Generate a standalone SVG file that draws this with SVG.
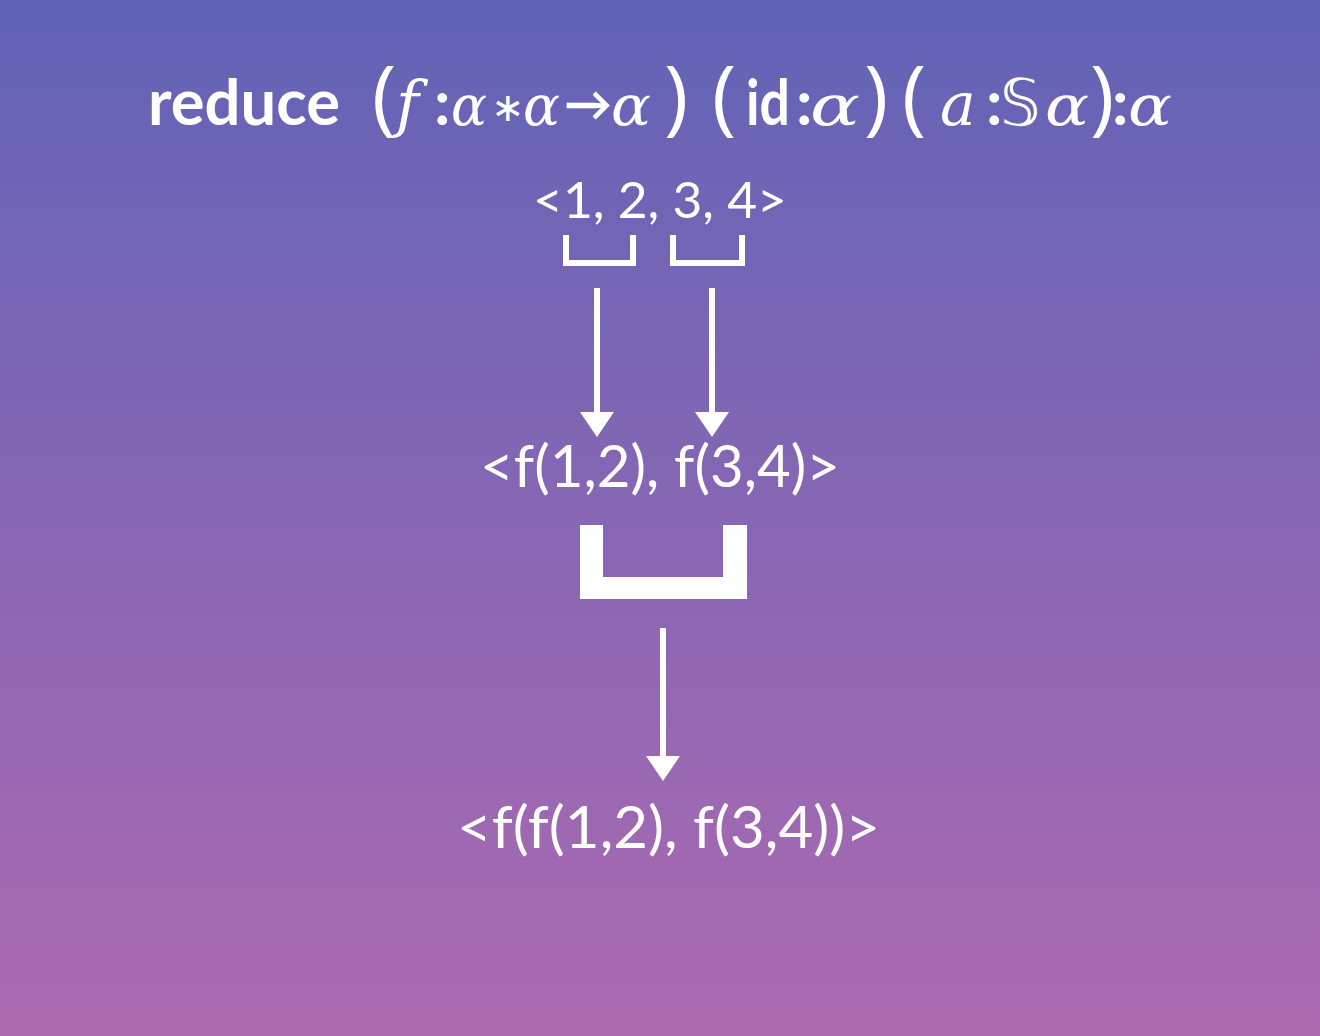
<svg xmlns="http://www.w3.org/2000/svg" width="1320" height="1036" viewBox="0 0 1320 1036">
<defs>
<linearGradient id="bg" x1="0" y1="0" x2="0" y2="1">
<stop offset="0" stop-color="#6163b6"/>
<stop offset="1" stop-color="#ad6ab1"/>
</linearGradient>
</defs>
<style>
.sans{font-family:Lato,"Open Sans","Liberation Sans",sans-serif;fill:#fff}
.b{font-weight:700}
.m{font-family:"DejaVu Serif","Liberation Serif",serif;font-style:italic;fill:#fff}
.par{font-family:"Open Sans","Liberation Sans",sans-serif;font-weight:400;fill:#fff}
.ln{stroke:#fff;fill:none;stroke-width:6}
.hd{fill:#fff}
</style>
<rect width="1320" height="1036" fill="url(#bg)"/>
<g id="title">
<text y="125" font-size="64">
<tspan class="sans b" x="148" textLength="192" lengthAdjust="spacingAndGlyphs">reduce</tspan>
<tspan class="par" x="372" font-size="82">(</tspan>
<tspan class="m" x="396" font-size="62">f</tspan>
<tspan class="sans b" x="434">:</tspan>
<tspan class="m" x="451" font-size="56" textLength="36" lengthAdjust="spacingAndGlyphs">α</tspan>
<tspan class="sans" x="491" font-size="40" font-family="DejaVu Sans" dy="-4">∗</tspan>
<tspan class="m" x="523" font-size="56" dy="4" textLength="37" lengthAdjust="spacingAndGlyphs">α</tspan>
<tspan class="sans b" x="564" font-size="48" font-family="DejaVu Sans" dy="-4">→</tspan>
<tspan class="m" x="611" font-size="56" dy="4" textLength="40" lengthAdjust="spacingAndGlyphs">α</tspan>
<tspan class="par" x="664" font-size="82">)</tspan>
<tspan class="par" x="712" font-size="82">(</tspan>
<tspan class="sans b" x="746" textLength="44" lengthAdjust="spacingAndGlyphs">id</tspan>
<tspan class="sans b" x="796">:</tspan>
<tspan class="m" x="810" font-size="56" textLength="50" lengthAdjust="spacingAndGlyphs">α</tspan>
<tspan class="par" x="864" font-size="82">)</tspan>
<tspan class="par" x="902" font-size="82">(</tspan>
<tspan class="m" x="940" font-size="60">a</tspan>
<tspan class="sans b" x="986">:</tspan>
<tspan class="sans" x="1000" font-size="64" font-family="DejaVu Sans">𝕊</tspan>
<tspan class="m" x="1045" font-size="56" textLength="44" lengthAdjust="spacingAndGlyphs">α</tspan>
<tspan class="par" x="1090" font-size="82">)</tspan>
<tspan class="sans b" x="1112">:</tspan>
<tspan class="m" x="1128" font-size="56" textLength="44" lengthAdjust="spacingAndGlyphs">α</tspan>
</text>
</g>
<g id="list1">
<text class="sans" x="533" y="218" font-size="50" textLength="254" lengthAdjust="spacingAndGlyphs">&lt;1, 2, 3, 4&gt;</text>
</g>
<g id="list2">
<text class="sans" x="480" y="487" font-size="58" textLength="360" lengthAdjust="spacingAndGlyphs">&lt;f(1,2), f(3,4)&gt;</text>
</g>
<g id="list3">
<text class="sans" x="457" y="848" font-size="58" textLength="423" lengthAdjust="spacingAndGlyphs">&lt;f(f(1,2), f(3,4))&gt;</text>
</g>
<g id="connectors">
<path class="ln" d="M566 235 V263 H633 V235"/>
<path class="ln" d="M673 235 V263 H742 V235"/>
<path d="M580 525 H603 V577 H723 V525 H747 V599 H580 Z" fill="#fff"/>
<line class="ln" x1="597" y1="288" x2="597" y2="416"/>
<polygon class="hd" points="580,412 614,412 597,437"/>
<line class="ln" x1="712" y1="288" x2="712" y2="416"/>
<polygon class="hd" points="695,412 729,412 712,437"/>
<line class="ln" x1="663" y1="628" x2="663" y2="760"/>
<polygon class="hd" points="646,756 680,756 663,781"/>
</g>
</svg>
